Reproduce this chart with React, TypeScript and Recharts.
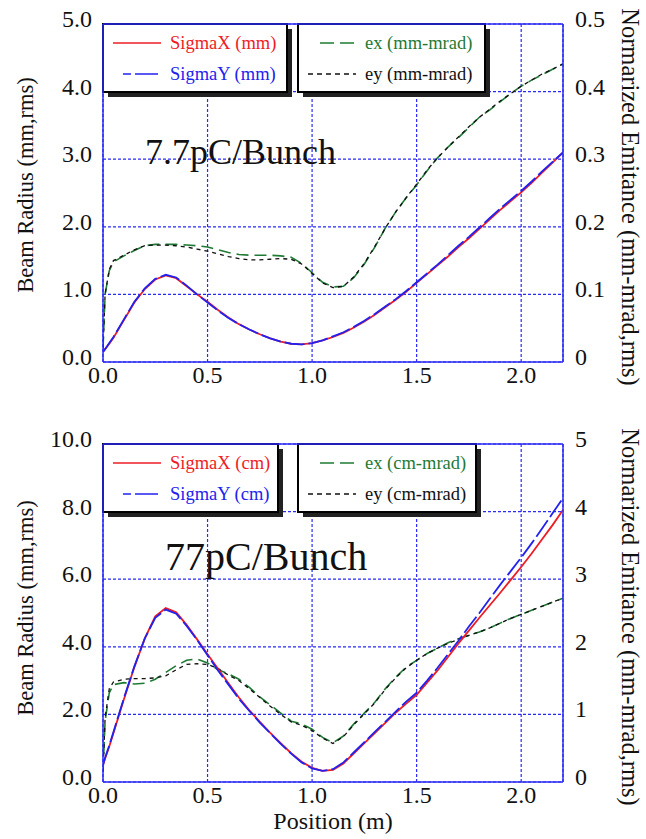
import React from 'react';
import {
  LineChart,
  Line,
  XAxis,
  YAxis,
  CartesianGrid,
  ReferenceLine,
  Customized,
} from 'recharts';

// positions along the beamline (m), shared by both plots
const positions = [
  0, 0.01, 0.03, 0.05, 0.1, 0.15, 0.2, 0.25, 0.3, 0.35, 0.4, 0.45, 0.5, 0.55, 0.6, 0.65,
  0.7, 0.75, 0.8, 0.85, 0.9, 0.95, 1.0, 1.05, 1.1, 1.15, 1.2, 1.25, 1.3, 1.35, 1.4, 1.45,
  1.5, 1.55, 1.6, 1.65, 1.7, 1.75, 1.8, 1.85, 1.9, 1.95, 2.0, 2.05, 2.1, 2.15, 2.2,
];

// 7.7pC/Bunch
const topSigmaX = [
  0.15, 0.19, 0.27, 0.36, 0.62, 0.88, 1.08, 1.22, 1.28, 1.24, 1.12, 1.0, 0.89, 0.77, 0.66, 0.56,
  0.48, 0.41, 0.35, 0.3, 0.27, 0.26, 0.28, 0.32, 0.37, 0.43, 0.51, 0.6, 0.7, 0.81, 0.92, 1.04,
  1.17, 1.3, 1.43, 1.56, 1.7, 1.83, 1.97, 2.11, 2.25, 2.38, 2.51, 2.65, 2.8, 2.95, 3.1,
];
const topSigmaY = [
  0.15, 0.19, 0.28, 0.37, 0.63, 0.89, 1.09, 1.23, 1.29, 1.25, 1.13, 1.0, 0.88, 0.76, 0.65, 0.56,
  0.48, 0.41, 0.35, 0.3, 0.27, 0.26, 0.28, 0.32, 0.38, 0.44, 0.52, 0.61, 0.71, 0.82, 0.93, 1.05,
  1.18, 1.31, 1.44, 1.58, 1.72, 1.85, 1.99, 2.13, 2.27, 2.4, 2.53, 2.67, 2.82, 2.96, 3.1,
];
const topEx = [
  0.02, 0.1, 0.135, 0.148, 0.157, 0.165, 0.172, 0.174, 0.174, 0.174, 0.173, 0.172, 0.17, 0.166,
  0.162, 0.159, 0.158, 0.158, 0.158, 0.157, 0.155, 0.146, 0.132, 0.118, 0.111, 0.112, 0.125,
  0.145, 0.17, 0.198, 0.222, 0.243, 0.262, 0.283, 0.302, 0.318, 0.332, 0.347, 0.362, 0.373,
  0.385, 0.397, 0.408, 0.417, 0.425, 0.433, 0.441,
];
const topEy = [
  0.02, 0.1, 0.137, 0.15, 0.158, 0.166, 0.172, 0.173, 0.173, 0.172, 0.17, 0.167, 0.164, 0.16,
  0.156, 0.153, 0.151, 0.151, 0.152, 0.153, 0.152, 0.145, 0.131, 0.117, 0.11, 0.112, 0.126,
  0.146, 0.171, 0.198, 0.222, 0.243, 0.263, 0.284, 0.302, 0.318, 0.333, 0.348, 0.362, 0.374,
  0.386, 0.397, 0.408, 0.417, 0.426, 0.433, 0.441,
];

// 77pC/Bunch
const botSigmaX = [
  0.5, 0.7, 1.05, 1.45, 2.45, 3.4, 4.25, 4.9, 5.15, 5.02, 4.65, 4.22, 3.78, 3.35, 2.92, 2.5,
  2.12, 1.78, 1.45, 1.15, 0.85, 0.6, 0.42, 0.33, 0.36, 0.55, 0.85, 1.15, 1.45, 1.75, 2.05, 2.32,
  2.58, 2.94, 3.3, 3.7, 4.1, 4.48, 4.86, 5.23, 5.6, 5.98, 6.36, 6.76, 7.18, 7.6, 8.05,
];
const botSigmaY = [
  0.5, 0.72, 1.08, 1.48, 2.48, 3.42, 4.25, 4.86, 5.1, 4.98, 4.62, 4.2, 3.75, 3.3, 2.88, 2.46,
  2.1, 1.76, 1.44, 1.13, 0.84, 0.58, 0.4, 0.33, 0.38, 0.58, 0.88, 1.18, 1.48, 1.78, 2.08, 2.38,
  2.64, 3.0, 3.38, 3.78, 4.18, 4.6, 5.0, 5.42, 5.84, 6.24, 6.64, 7.06, 7.5, 7.95, 8.4,
];
const botEx = [
  0.15, 0.9, 1.32, 1.44, 1.47, 1.45, 1.46, 1.52, 1.62, 1.72, 1.8, 1.82, 1.76, 1.66, 1.6, 1.52,
  1.4, 1.26, 1.14, 1.02, 0.9, 0.86, 0.78, 0.66, 0.58, 0.68, 0.86, 1.02, 1.18, 1.38, 1.55, 1.7,
  1.8, 1.9, 1.98, 2.06, 2.12, 2.17, 2.22, 2.28, 2.35, 2.42, 2.48, 2.54, 2.6, 2.66, 2.72,
];
const botEy = [
  0.15, 0.95, 1.38, 1.48, 1.52, 1.53, 1.53, 1.54, 1.57, 1.66, 1.74, 1.75, 1.74, 1.68, 1.58, 1.5,
  1.38, 1.25, 1.12, 1.0, 0.89, 0.84, 0.76, 0.65, 0.57, 0.67, 0.85, 1.01, 1.17, 1.37, 1.54, 1.69,
  1.8, 1.9, 1.98, 2.05, 2.11, 2.17, 2.22, 2.28, 2.35, 2.42, 2.48, 2.54, 2.6, 2.66, 2.72,
];

const xTicks = [0, 0.5, 1.0, 1.5, 2.0];
const topRadiusTicks = [0, 1, 2, 3, 4, 5];
const topEmitTicks = [0, 0.1, 0.2, 0.3, 0.4, 0.5];
const botRadiusTicks = [0, 2, 4, 6, 8, 10];
const botEmitTicks = [0, 1, 2, 3, 4, 5];

const topData = positions.map((x, i) => ({
  x, sx: topSigmaX[i], sy: topSigmaY[i], ex: topEx[i], ey: topEy[i],
}));
const botData = positions.map((x, i) => ({
  x, sx: botSigmaX[i], sy: botSigmaY[i], ex: botEx[i], ey: botEy[i],
}));

const SERIF = "'Liberation Serif', 'Times New Roman', serif";
const RED = '#ee1c25';
const BLUE = '#2222ee';
const GREEN = '#1f7a35';
const BLACK = '#111';
const FRAME = '#2a2af5';

const fmt1 = (v: number) => v.toFixed(1);
const fmtEmit = (v: number) => (v === 0 ? '0' : String(Math.round(v * 10) / 10));

const leftTick = (p: any) => (
  <text x={p.x} y={p.y + 3} textAnchor="end" fontFamily={SERIF} fontSize={24} fill={BLACK}>
    {fmt1(p.payload.value)}
  </text>
);
const rightTick = (p: any) => (
  <text x={p.x} y={p.y + 3} textAnchor="start" fontFamily={SERIF} fontSize={24} fill={BLACK}>
    {fmtEmit(p.payload.value)}
  </text>
);
const bottomTick = (p: any) => (
  <text x={p.x} y={p.y + 21} textAnchor="middle" fontFamily={SERIF} fontSize={24} fill={BLACK}>
    {fmt1(p.payload.value)}
  </text>
);

interface OverlayProps {
  top: number;
  unit: string;
  title: string;
  titleX: number;
  titleY: number;
  titleSize: number;
  box1W: number;
  box2W: number;
  leftTitleY: number;
  rightTitleY: number;
  showXLabel?: boolean;
}

// legend boxes, in-plot title and axis titles
const Overlay = (o: OverlayProps) => {
  const r1 = o.top + 19;
  const r2 = o.top + 50;
  const b2x = 298;
  const h = 68;
  const txt = { fontFamily: SERIF, fontSize: 18.5 };
  return (
    <g>
      <rect x={108} y={o.top + 5} width={o.box1W} height={h} fill="#222" />
      <rect x={103} y={o.top} width={o.box1W} height={h} fill="#fff" stroke="#000" strokeWidth={2} />
      <rect x={b2x + 5} y={o.top + 5} width={o.box2W} height={h} fill="#222" />
      <rect x={b2x} y={o.top} width={o.box2W} height={h} fill="#fff" stroke="#000" strokeWidth={2} />

      <line x1={113} x2={161} y1={r1} y2={r1} stroke={RED} strokeWidth={1.5} />
      <text x={170} y={r1 + 6} fill={RED} {...txt}>{`SigmaX (${o.unit})`}</text>
      <line x1={123} x2={158} y1={r2} y2={r2} stroke={BLUE} strokeWidth={1.5} strokeDasharray="8 4 23 4" />
      <text x={170} y={r2 + 6} fill={BLUE} {...txt}>{`SigmaY (${o.unit})`}</text>

      <line x1={320} x2={354} y1={r1} y2={r1} stroke={GREEN} strokeWidth={1.5} strokeDasharray="14 6" />
      <text x={365} y={r1 + 6} fill={GREEN} {...txt}>{`ex (${o.unit}-mrad)`}</text>
      <line x1={308} x2={356} y1={r2} y2={r2} stroke={BLACK} strokeWidth={1.5} strokeDasharray="5 4" />
      <text x={365} y={r2 + 6} fill={BLACK} {...txt}>{`ey (${o.unit}-mrad)`}</text>

      <text x={o.titleX} y={o.titleY} fontFamily={SERIF} fontSize={o.titleSize} fill={BLACK}>
        {o.title}
      </text>

      <text
        transform={`translate(25,${o.leftTitleY}) rotate(-90)`}
        textAnchor="middle"
        dy="0.35em"
        fontFamily={SERIF}
        fontSize={22.5}
        fill={BLACK}
      >
        Beam Radius (mm,rms)
      </text>
      <text
        transform={`translate(631,${o.rightTitleY}) rotate(90)`}
        textAnchor="middle"
        dy="0.35em"
        fontFamily={SERIF}
        fontSize={24.5}
        fill={BLACK}
      >
        Normarized Emitance (mm-mrad,rms)
      </text>
      {o.showXLabel && (
        <text x={333} y={419} textAnchor="middle" fontFamily={SERIF} fontSize={24} fill={BLACK}>
          Position (m)
        </text>
      )}
    </g>
  );
};

interface PanelProps {
  data: any[];
  height: number;
  top: number;
  xAxisHeight: number;
  radiusMax: number;
  emitMax: number;
  radiusTicks: number[];
  emitTicks: number[];
  overlay: OverlayProps;
}

const Panel = ({ data, height, top, xAxisHeight, radiusMax, emitMax, radiusTicks, emitTicks, overlay }: PanelProps) => (
  <LineChart width={646} height={height} data={data} margin={{ top, right: 0, bottom: 0, left: 0 }}>
    <CartesianGrid yAxisId="r" stroke={FRAME} strokeDasharray="3 2" strokeWidth={1.2} />
    <XAxis
      dataKey="x"
      type="number"
      domain={[0, 2.2]}
      ticks={xTicks}
      height={xAxisHeight}
      tickSize={0}
      tickMargin={0}
      tick={bottomTick}
      axisLine={{ stroke: FRAME, strokeWidth: 1.5 }}
      allowDataOverflow
    />
    <YAxis
      yAxisId="r"
      domain={[0, radiusMax]}
      ticks={radiusTicks}
      width={103}
      tickSize={0}
      tickMargin={11}
      tick={leftTick}
      axisLine={{ stroke: FRAME, strokeWidth: 1.5 }}
    />
    <YAxis
      yAxisId="e"
      orientation="right"
      domain={[0, emitMax]}
      ticks={emitTicks}
      width={83}
      tickSize={0}
      tickMargin={12}
      tick={rightTick}
      axisLine={{ stroke: FRAME, strokeWidth: 1.5 }}
    />
    <ReferenceLine yAxisId="r" y={radiusMax} stroke={FRAME} strokeWidth={1.5} />
    <Line yAxisId="e" dataKey="ex" stroke={GREEN} strokeWidth={1.6} strokeDasharray="12 6" dot={false} isAnimationActive={false} />
    <Line yAxisId="e" dataKey="ey" stroke={BLACK} strokeWidth={1.3} strokeDasharray="4 4" dot={false} isAnimationActive={false} />
    <Line yAxisId="r" dataKey="sx" stroke={RED} strokeWidth={1.8} dot={false} isAnimationActive={false} />
    <Line yAxisId="r" dataKey="sy" stroke={BLUE} strokeWidth={1.8} strokeDasharray="20 4" dot={false} isAnimationActive={false} />
    <Customized component={() => <Overlay {...overlay} />} />
  </LineChart>
);

export default function App() {
  return (
    <div style={{ position: 'absolute', left: 0, top: 0, width: 646, height: 839, background: '#fff' }}>
      <Panel
        data={topData}
        height={410}
        top={24}
        xAxisHeight={48}
        radiusMax={5}
        emitMax={0.5}
        radiusTicks={topRadiusTicks}
        emitTicks={topEmitTicks}
        overlay={{
          top: 24,
          unit: 'mm',
          title: '7.7pC/Bunch',
          titleX: 145,
          titleY: 164,
          titleSize: 36,
          box1W: 184,
          box2W: 187,
          leftTitleY: 185,
          rightTitleY: 197,
        }}
      />
      <Panel
        data={botData}
        height={429}
        top={34}
        xAxisHeight={57}
        radiusMax={10}
        emitMax={5}
        radiusTicks={botRadiusTicks}
        emitTicks={botEmitTicks}
        overlay={{
          top: 34,
          unit: 'cm',
          title: '77pC/Bunch',
          titleX: 165,
          titleY: 160,
          titleSize: 40,
          box1W: 175,
          box2W: 178,
          leftTitleY: 198,
          rightTitleY: 207,
          showXLabel: true,
        }}
      />
    </div>
  );
}
